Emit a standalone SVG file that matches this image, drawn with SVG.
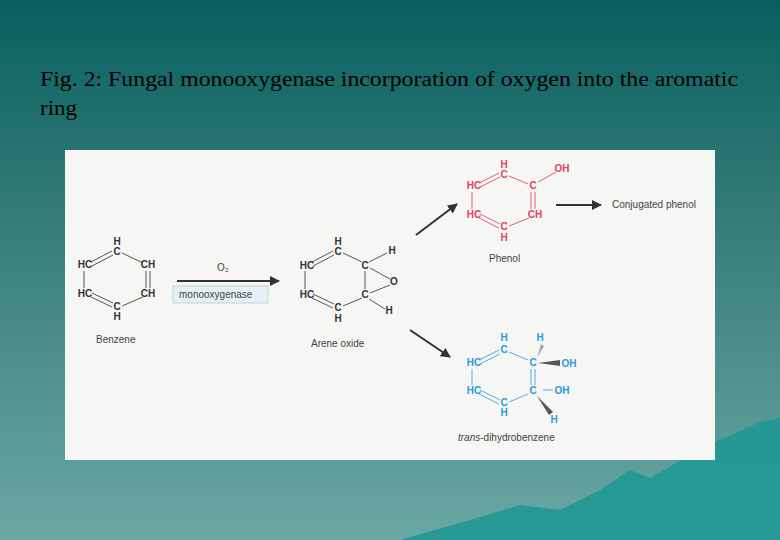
<svg xmlns="http://www.w3.org/2000/svg" width="780" height="540" viewBox="0 0 780 540">
<defs>
<linearGradient id="bg" x1="0" y1="0" x2="0" y2="1"><stop offset="0" stop-color="#08605e"/><stop offset="0.45" stop-color="#3a7f7c"/><stop offset="1" stop-color="#6aa8a4"/></linearGradient>
<marker id="ah" viewBox="0 0 10 10" refX="9" refY="5" markerWidth="5" markerHeight="5" orient="auto"><path d="M0,0L10,5L0,10z" fill="#333"/></marker>
<style>
.t{font-family:"Liberation Sans",Arial,sans-serif;font-size:10px;fill:#444}
.a{font-family:"Liberation Sans",Arial,sans-serif;font-size:10px;font-weight:bold;text-anchor:middle;dominant-baseline:middle}
.k .a{fill:#333}.r .a{fill:#e0406a}.b .a{fill:#2a9ad8}
.k line{stroke:#555;stroke-width:1}.r line{stroke:#e06080;stroke-width:1}.b line{stroke:#50aee0;stroke-width:1}
.c line{stroke:#333;stroke-width:2;marker-end:url(#ah)}
</style>
</defs>
<rect width="780" height="540" fill="url(#bg)"/>
<path d="M400,540 L470,520 L520,505 L560,510 L600,490 L630,470 L650,478 L690,455 L720,440 L760,422 L780,418 L780,540Z" fill="#1f9894" opacity="0.9"/>
<text x="40" y="86" font-family="Liberation Serif,serif" font-size="21" fill="#000" textLength="698" lengthAdjust="spacingAndGlyphs">Fig. 2: Fungal monooxygenase incorporation of oxygen into the aromatic</text>
<text x="40" y="115" font-family="Liberation Serif,serif" font-size="21" fill="#000" textLength="37" lengthAdjust="spacingAndGlyphs">ring</text>
<rect x="65" y="150" width="650" height="310" fill="#f6f6f4"/>
<g id="benzene" class="k">
<line x1="91" y1="262" x2="112" y2="251"/><line x1="92" y1="266" x2="113" y2="255"/>
<line x1="122" y1="253" x2="143" y2="263"/>
<line x1="146" y1="271" x2="146" y2="288"/><line x1="150" y1="271" x2="150" y2="288"/>
<line x1="84" y1="271" x2="84" y2="288"/>
<line x1="91" y1="297" x2="112" y2="307"/><line x1="92" y1="293" x2="113" y2="303"/>
<line x1="122" y1="306" x2="143" y2="297"/>
<text class="a" x="117" y="242">H</text><text class="a" x="117" y="252">C</text>
<text class="a" x="85" y="265">HC</text><text class="a" x="148" y="265">CH</text>
<text class="a" x="85" y="294">HC</text><text class="a" x="148" y="294">CH</text>
<text class="a" x="117" y="307">C</text><text class="a" x="117" y="317">H</text>
<text class="t" x="96" y="343">Benzene</text>
</g>
<g id="enzyme">
<text class="t" x="217" y="271" font-size="7">O₂</text>
<rect x="173" y="286" width="95" height="17" fill="#e6f0f4" stroke="#b8ccd4" stroke-width="0.8"/>
<text class="t" x="179" y="298">monooxygenase</text>
</g>
<g id="areneoxide" class="k">
<line x1="312" y1="262" x2="333" y2="251"/><line x1="313" y1="266" x2="334" y2="255"/>
<line x1="343" y1="253" x2="362" y2="262"/>
<line x1="305" y1="271" x2="305" y2="289"/>
<line x1="365" y1="271" x2="365" y2="289"/>
<line x1="312" y1="298" x2="333" y2="308"/><line x1="313" y1="294" x2="334" y2="304"/>
<line x1="343" y1="306" x2="362" y2="298"/>
<line x1="370" y1="268" x2="390" y2="279"/><line x1="370" y1="293" x2="390" y2="285"/>
<line x1="369" y1="262" x2="387" y2="253"/><line x1="369" y1="299" x2="385" y2="309"/>
<text class="a" x="338" y="242">H</text><text class="a" x="338" y="252">C</text>
<text class="a" x="307" y="266">HC</text><text class="a" x="365" y="266">C</text>
<text class="a" x="392" y="251">H</text><text class="a" x="394" y="282">O</text>
<text class="a" x="307" y="295">HC</text><text class="a" x="365" y="295">C</text>
<text class="a" x="338" y="308">C</text><text class="a" x="338" y="319">H</text>
<text class="a" x="389" y="311">H</text>
<text class="t" x="311" y="347">Arene oxide</text>
</g>
<g id="phenol" class="r">
<line x1="479" y1="183" x2="499" y2="173"/><line x1="480" y1="187" x2="500" y2="177"/>
<line x1="509" y1="176" x2="528" y2="184"/>
<line x1="538" y1="182" x2="556" y2="172"/>
<line x1="531" y1="192" x2="531" y2="209"/><line x1="535" y1="192" x2="535" y2="209"/>
<line x1="472" y1="192" x2="472" y2="209"/>
<line x1="479" y1="218" x2="499" y2="228"/><line x1="480" y1="214" x2="500" y2="224"/>
<line x1="509" y1="226" x2="529" y2="218"/>
<text class="a" x="504" y="165">H</text><text class="a" x="504" y="175">C</text>
<text class="a" x="474" y="186">HC</text><text class="a" x="533" y="186">C</text>
<text class="a" x="562" y="169">OH</text>
<text class="a" x="474" y="215">HC</text><text class="a" x="535" y="215">CH</text>
<text class="a" x="504" y="227">C</text><text class="a" x="504" y="238">H</text>
<text class="t" x="489" y="262">Phenol</text>
<text class="t" x="612" y="208">Conjugated phenol</text>
</g>
<g id="dihydro" class="b">
<line x1="479" y1="360" x2="499" y2="350"/><line x1="480" y1="364" x2="500" y2="354"/>
<line x1="509" y1="352" x2="528" y2="360"/>
<line x1="531" y1="369" x2="531" y2="385"/><line x1="535" y1="369" x2="535" y2="385"/>
<line x1="472" y1="369" x2="472" y2="385"/>
<line x1="479" y1="394" x2="499" y2="404"/><line x1="480" y1="390" x2="500" y2="400"/>
<line x1="509" y1="402" x2="528" y2="394"/>
<line x1="543" y1="390" x2="553" y2="390"/>
<path d="M537,358 L541,344 L544,346Z" fill="#a0a8b0"/>
<path d="M538,363 L560,360 L560,366Z" fill="#555"/>
<path d="M537,396 L553,412 L549,415Z" fill="#555"/>
<text class="a" x="504" y="338">H</text><text class="a" x="504" y="350">C</text>
<text class="a" x="540" y="338">H</text>
<text class="a" x="474" y="363">HC</text><text class="a" x="533" y="363">C</text>
<text class="a" x="569" y="364">OH</text>
<text class="a" x="474" y="391">HC</text><text class="a" x="533" y="391">C</text>
<text class="a" x="562" y="391">OH</text>
<text class="a" x="504" y="403">C</text><text class="a" x="504" y="413">H</text>
<text class="a" x="554" y="420">H</text>
<text class="t" x="458" y="441"><tspan font-style="italic">trans</tspan>-dihydrobenzene</text>
</g>
<g id="connectors" class="c">
<line x1="177" y1="281" x2="279" y2="281"/>
<line x1="416" y1="235" x2="457" y2="204"/>
<line x1="556" y1="205" x2="601" y2="205"/>
<line x1="410" y1="330" x2="450" y2="357"/>
</g>
</svg>
